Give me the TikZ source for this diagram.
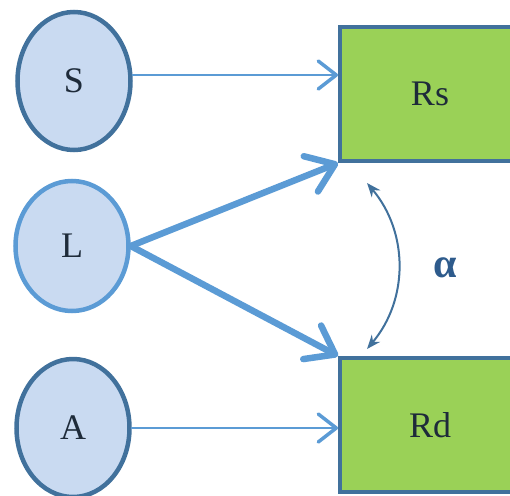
\documentclass[tikz,border=0pt]{standalone}
\usepackage{xcolor}
\usepackage{amsmath}
\usepackage{fontspec}
\setmainfont{Liberation Serif}
\usepackage{tikz}
\usetikzlibrary{arrows.meta,positioning,shapes.geometric}
\definecolor{latfill}{HTML}{C9DAF1}
\definecolor{latedge}{HTML}{41719C}
\definecolor{latarrow}{HTML}{5B9BD5}
\definecolor{resgreen}{HTML}{9AD157}
\definecolor{inktext}{HTML}{1E2B3A}
\definecolor{alphablue}{HTML}{2E5B8C}

\begin{document}
\begin{tikzpicture}[x=1pt,y=1pt, every node/.style={font=\fontsize{36}{42}\selectfont,text=inktext}, lat/.style={ellipse,draw=latedge,line width=4.5pt,fill=latfill,minimum width=113pt,minimum height=138pt}, res/.style={rectangle,draw=latedge,line width=4pt,fill=resgreen,minimum width=180pt,minimum height=134pt}, arr/.style={-{Straight Barb[length=18pt,width=28pt,line width=3.5pt,round]},line width=2.5pt,draw=latarrow,line cap=round}, thk/.style={arr,line width=6.5pt,-{Straight Barb[length=26pt,width=38pt,round]}}, corr/.style={{Stealth[length=14pt,width=11pt]}-{Stealth[length=14pt,width=11pt]},line width=2pt,draw=latedge}]
\clip (0,0) rectangle (510,-495);
\node[lat] (S) at (74,-81) {S}; \node[lat,draw=latarrow,minimum height=130pt] (L) at (72,-246) {L}; \node[lat] (A) at (73,-428) {A};
\node[res] (Rs) at (430,-94) {Rs}; \node[res] (Rd) at (430,-425) {Rd};
\coordinate (up) at ([shift={(29,-20)}]Rs.south west); \coordinate (dn) at ([shift={(29,7)}]Rd.north west);
\node[text=alphablue,font=\fontsize{42}{48}\selectfont\bfseries] (alpha) at (445,-268) {α};
\draw[arr] ([yshift=6]S.east)--([yshift=6]S.east -| Rs.west);\draw[arr](A.east)--(A.east -| Rd.west);\draw[thk](L.east)--(Rs.south west);\draw[thk](L.east)--(Rd.north west);\draw[corr](up) to[bend left=40] (dn);
\end{tikzpicture}
\end{document}
